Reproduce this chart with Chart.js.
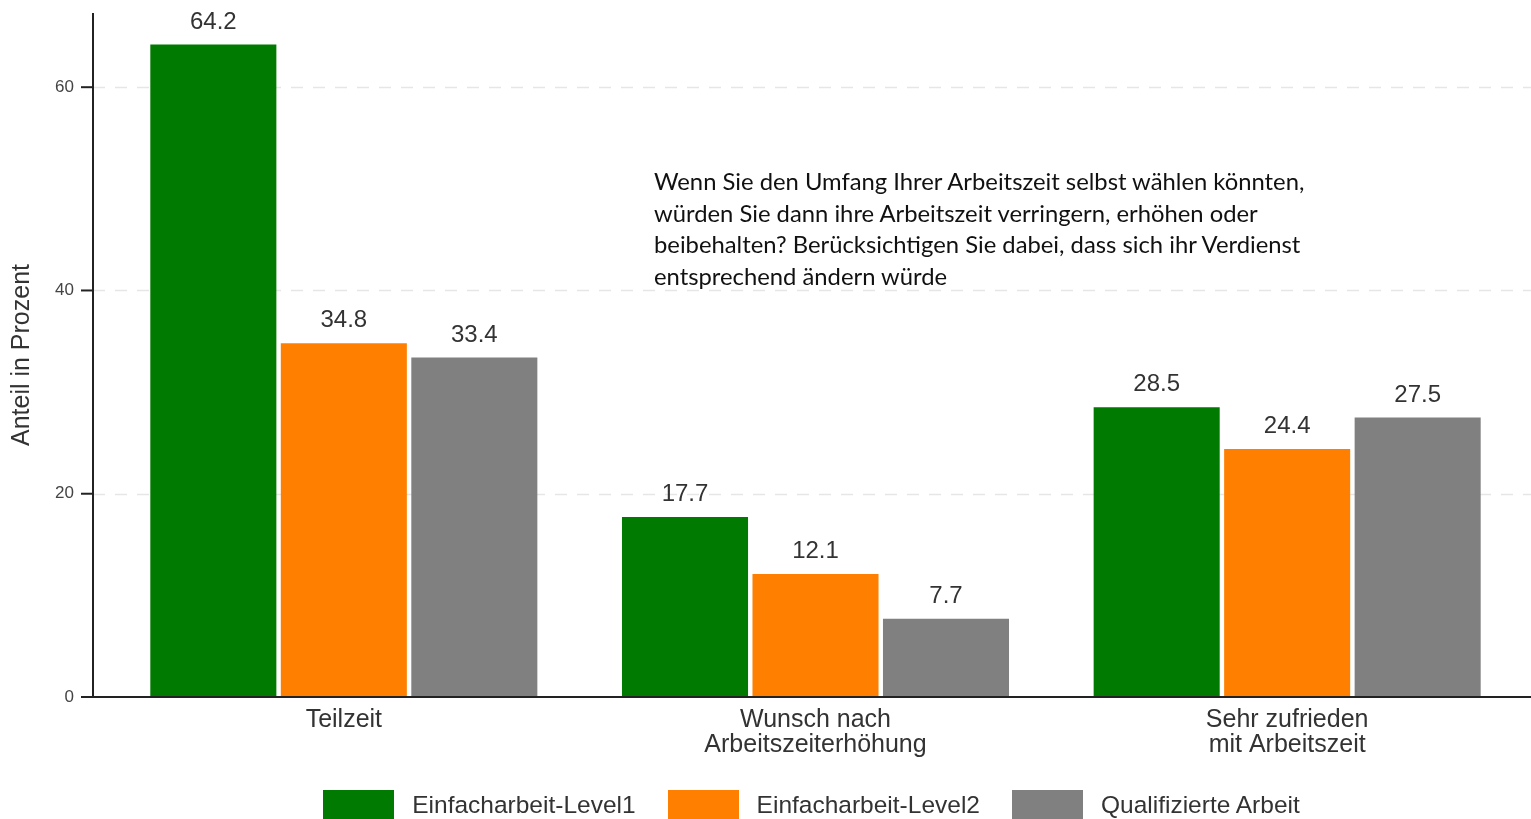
<!DOCTYPE html>
<html>
<head>
<meta charset="utf-8">
<script src="https://cdn.jsdelivr.net/npm/chart.js@4.4.1/dist/chart.umd.min.js"></script>
<style>
  html, body { margin: 0; padding: 0; background: #fff; }
  #wrap { position: relative; width: 1531px; height: 819px; overflow: hidden; }
  #note { position: absolute; left: 654px; top: 166px; font-family: Lato, "Open Sans", sans-serif; font-size: 23.8px; line-height: 31.7px; color: #111; white-space: nowrap; }
  #legend { position: absolute; left: 104px; width: 1415px; top: 790px; display: flex; justify-content: center; font-family: "Liberation Sans", Arial, sans-serif; font-size: 24.5px; color: #333; }
  .item { display: flex; align-items: center; margin: 0 16px; }
  .box { width: 71px; height: 30px; margin-right: 18px; }
</style>
</head>
<body>
<div id="wrap">
  <canvas id="chart" width="1531" height="819"></canvas>
  <div id="note"></div>
  <div id="legend"></div>
</div>
<script>
// data
const categories = ['Teilzeit', ['Wunsch nach', 'Arbeitszeiterhöhung'], ['Sehr zufrieden', 'mit Arbeitszeit']];
const seriesNames = ['Einfacharbeit-Level1', 'Einfacharbeit-Level2', 'Qualifizierte Arbeit'];
const level1 = [64.2, 17.7, 28.5];
const level2 = [34.8, 12.1, 24.4];
const qualified = [33.4, 7.7, 27.5];
const seriesColors = ['#007a00', '#ff8000', '#808080'];
const yTicks = [0, 20, 40, 60];
const noteLines = [
  'Wenn Sie den Umfang Ihrer Arbeitszeit selbst wählen könnten,',
  'würden Sie dann ihre Arbeitszeit verringern, erhöhen oder',
  'beibehalten? Berücksichtigen Sie dabei, dass sich ihr Verdienst',
  'entsprechend ändern würde'
];

const seriesValues = [level1, level2, qualified];

// question text + legend as html
document.getElementById('note').innerHTML = noteLines.join('<br>');
const legendEl = document.getElementById('legend');
seriesNames.forEach((name, i) => {
  const item = document.createElement('div');
  item.className = 'item';
  item.innerHTML = '<div class="box" style="background:' + seriesColors[i] + '"></div><span>' + name + '</span>';
  legendEl.appendChild(item);
});

// axis lines, dashed grid and value labels
const decor = {
  id: 'decor',
  beforeDatasetsDraw(chart) {
    const { ctx, scales: { y } } = chart;
    const axisX = chart.chartArea.left - 15;
    ctx.save();
    ctx.strokeStyle = '#e6e6e6';
    ctx.lineWidth = 1.5;
    ctx.setLineDash([12, 10]);
    yTicks.forEach(v => {
      if (v === 0) return;
      const py = Math.round(y.getPixelForValue(v)) + 0.5;
      ctx.beginPath();
      ctx.moveTo(axisX, py);
      ctx.lineTo(chart.width, py);
      ctx.stroke();
    });
    ctx.restore();
  },
  afterDatasetsDraw(chart) {
    const { ctx, chartArea, scales: { y } } = chart;
    const axisX = chartArea.left - 15;
    ctx.save();
    ctx.strokeStyle = '#222';
    ctx.lineWidth = 2;
    ctx.beginPath();
    ctx.moveTo(axisX, chartArea.top);
    ctx.lineTo(axisX, chartArea.bottom);
    ctx.stroke();
    ctx.beginPath();
    ctx.moveTo(axisX - 12, chartArea.bottom);
    ctx.lineTo(chart.width, chartArea.bottom);
    ctx.stroke();
    yTicks.forEach(v => {
      const py = y.getPixelForValue(v);
      ctx.beginPath();
      ctx.moveTo(axisX - 12, py);
      ctx.lineTo(axisX, py);
      ctx.stroke();
    });

    ctx.fillStyle = '#333';
    ctx.font = '24px "Liberation Sans", Arial, sans-serif';
    ctx.textAlign = 'center';
    ctx.textBaseline = 'alphabetic';
    chart.data.datasets.forEach((ds, i) => {
      chart.getDatasetMeta(i).data.forEach((bar, j) => {
        ctx.fillText(ds.data[j].toFixed(1), bar.x, bar.y - 16);
      });
    });
    ctx.restore();
  }
};

new Chart(document.getElementById('chart').getContext('2d'), {
  type: 'bar',
  data: {
    labels: categories,
    datasets: seriesNames.map((name, i) => ({
      label: name,
      data: seriesValues[i],
      backgroundColor: seriesColors[i],
      borderWidth: 0,
      categoryPercentage: 0.83,
      barPercentage: 0.966
    }))
  },
  options: {
    responsive: false,
    animation: false,
    devicePixelRatio: 1,
    layout: {
      padding: { left: 0, right: 8, top: 13, bottom: 0 }
    },
    plugins: {
      legend: { display: false },
      tooltip: { enabled: false }
    },
    scales: {
      x: {
        grid: { display: false, drawTicks: false },
        border: { display: false },
        ticks: {
          color: '#333',
          padding: 11,
          maxRotation: 0,
          font: { family: '"Liberation Sans", Arial, sans-serif', size: 25, lineHeight: 1.0 }
        },
        afterFit: s => { s.height = 122; s.paddingLeft = 0; s.paddingRight = 0; }
      },
      y: {
        min: 0,
        max: 67.3,
        grid: { display: false, drawTicks: false },
        border: { display: false },
        afterBuildTicks: s => { s.ticks = yTicks.map(v => ({ value: v })); },
        ticks: {
          color: '#444',
          padding: 34,
          font: { family: '"Liberation Sans", Arial, sans-serif', size: 17 }
        },
        title: {
          display: true,
          text: 'Anteil in Prozent',
          color: '#333',
          padding: { top: 7, bottom: 0 },
          font: { family: '"Liberation Sans", Arial, sans-serif', size: 25 }
        },
        afterFit: s => { s.width = 108; s.paddingTop = 0; s.paddingBottom = 0; }
      }
    }
  },
  plugins: [decor]
});
</script>
</body>
</html>
